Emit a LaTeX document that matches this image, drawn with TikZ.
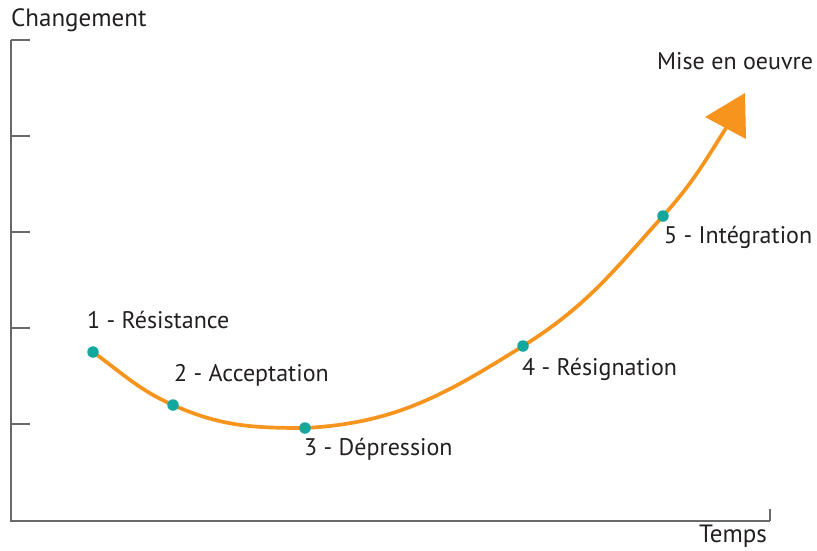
\documentclass[tikz,border=0pt]{standalone}
\usepackage{fontspec}
\setmainfont{PT Sans}
\usetikzlibrary{arrows.meta}
\definecolor{curveorange}{HTML}{F7941D}
\definecolor{stageteal}{HTML}{13A89E}
\definecolor{axisgray}{HTML}{6A6A6A}
\definecolor{labeltext}{HTML}{231F20}
\tikzset{
  axisline/.style={draw=axisgray, line width=1.3pt},
  curveline/.style={draw=curveorange, line width=3.7pt},
  stagedot/.style={circle, fill=stageteal, inner sep=0pt, minimum size=11.5pt},
  lbl/.style={text=labeltext, font=\fontsize{24}{28}\selectfont, inner sep=0pt, anchor=west},
}
\begin{document}
\begin{tikzpicture}[x=1pt, y=-1pt]
\useasboundingbox (0,0) rectangle (817,550);

% axes
\coordinate (ytop) at (11,40);
\coordinate (origin) at (11,521);
\coordinate (xend) at (770,521);
\draw[axisline] (ytop) -- (origin) -- (xend);
\foreach \yy in {40,136,232,328,424}
  \draw[axisline] (11,\yy) -- (30,\yy);
\draw[axisline] (11,509) -- (origin);
\draw[axisline] (770,509) -- (xend);

\node[lbl, font=\fontsize{25}{29}\selectfont] (ylab) at (11,20) {Changement};
\node[lbl, font=\fontsize{25}{29}\selectfont] (xlab) at (699,536) {Temps};

% change curve through the five stages
\coordinate (p1) at (93,352);
\coordinate (p2) at (173,405);
\coordinate (p3) at (305,428);
\coordinate (p4) at (523,346);
\coordinate (p5) at (663,216);
\coordinate (shaft) at (726,128);
\coordinate (tipA) at (705,117);
\coordinate (tipB) at (745,93);
\coordinate (tipC) at (746,139);

\draw[curveline] (p1) to[out=-36, in=156] (p2)
                     to[out=-24, in=180] (p3)
                     to[out=3, in=212] (p4)
                     to[out=32, in=228] (p5)
                     to[out=48, in=238] (shaft);
\fill[curveorange] (tipA) -- (tipB) -- (tipC) -- cycle;

\node[stagedot] (s1) at (p1) {};
\node[stagedot] (s2) at (p2) {};
\node[stagedot] (s3) at (p3) {};
\node[stagedot] (s4) at (p4) {};
\node[stagedot] (s5) at (p5) {};

\node[lbl] (l1) at (87,320) {1 - Résistance};
\node[lbl] (l2) at (174,375) {2 - Acceptation};
\node[lbl] (l3) at (304,449) {3 - Dépression};
\node[lbl] (l4) at (522,369) {4 - Résignation};
\node[lbl] (l5) at (664,237) {5 - Intégration};
\node[lbl] (l6) at (657,61) {Mise en oeuvre};
\end{tikzpicture}
\end{document}
